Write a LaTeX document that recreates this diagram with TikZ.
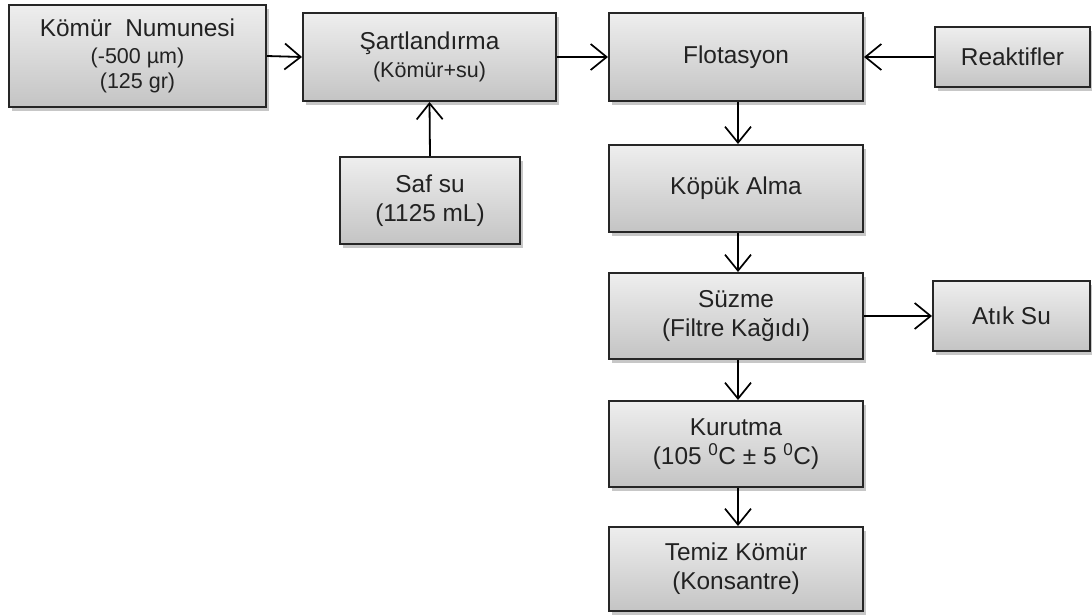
\documentclass[tikz,border=0pt]{standalone}
\usepackage{fontspec}
\setmainfont{Liberation Sans}
\usetikzlibrary{arrows.meta,shadows}
\definecolor{boxtop}{HTML}{EEEEEE}
\definecolor{boxbot}{HTML}{C4C4C4}
\definecolor{edgec}{HTML}{262626}
\definecolor{txt}{HTML}{222222}
\newcommand{\bigtxt}{\fontsize{24.4}{29}\selectfont}
\newcommand{\smalltxt}{\fontsize{21.5}{25}\selectfont}
\tikzset{
  box/.style={draw=edgec, line width=2pt, rectangle, top color=boxtop, bottom color=boxbot,
    align=center, text=txt, inner sep=2pt, font=\bigtxt,
    drop shadow={shadow xshift=2.5pt, shadow yshift=-3.5pt, opacity=0.22, fill=black}},
  arr/.style={-{Straight Barb[length=16pt,width=26pt,line width=1.7pt]}, line width=1.8pt, draw=black}
}
\begin{document}
\begin{tikzpicture}[x=1pt,y=-1pt]
\useasboundingbox (0,0) rectangle (1092,614);
\node[box, minimum width=257pt, minimum height=102pt] (kn) at (137.5,56)
  {Kömür\ \ Numunesi\\[-2pt]{\smalltxt (-500 µm)}\\[-4pt]{\smalltxt (125 gr)}};
\node[box, minimum width=253pt, minimum height=88pt] (sa) at (429.5,57)
  {Şartlandırma\\[-1pt]{\smalltxt (Kömür+su)}};
\node[box, minimum width=254pt, minimum height=88pt] (fl) at (736,57) {Flotasyon};
\node[box, minimum width=155pt, minimum height=60pt] (re) at (1012.5,57) {Reaktifler};
\node[box, minimum width=180pt, minimum height=87pt] (ss) at (430,200.5) {Saf su\\(1125 mL)};
\node[box, minimum width=254pt, minimum height=87pt] (ka) at (736,188.5) {Köpük Alma};
\node[box, minimum width=254pt, minimum height=86pt] (sz) at (736,316) {Süzme\\(Filtre Kağıdı)};
\node[box, minimum width=157pt, minimum height=70pt] (as) at (1011.5,316) {Atık Su};
\node[box, minimum width=254pt, minimum height=86pt] (ku) at (736,444)
  {Kurutma\\(105 \textsuperscript{0}C ± 5 \textsuperscript{0}C)};
\node[box, minimum width=254pt, minimum height=84pt] (tk) at (736,569) {Temiz Kömür\\(Konsantre)};

\draw[arr] (kn.east) -- (sa.west);
\draw[arr] (sa.east) -- (fl.west);
\draw[arr] (re.west) -- (fl.east);
\draw[arr] (ss.north) -- (sa.south);
\draw[arr] ([xshift=2pt]fl.south) -- ([xshift=2pt]ka.north);
\draw[arr] ([xshift=2pt]ka.south) -- ([xshift=2pt]sz.north);
\draw[arr] (sz.east) -- (as.west);
\draw[arr] ([xshift=2pt]sz.south) -- ([xshift=2pt]ku.north);
\draw[arr] ([xshift=2pt]ku.south) -- ([xshift=2pt]tk.north);
\end{tikzpicture}
\end{document}
